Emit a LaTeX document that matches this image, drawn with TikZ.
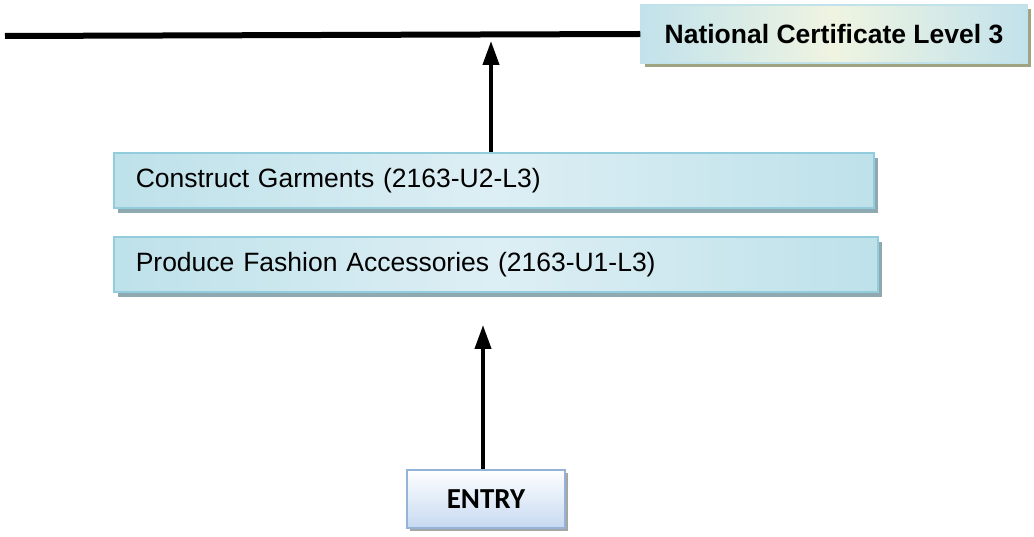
\documentclass[tikz,border=0pt]{standalone}
\usepackage{fontspec}
\setmainfont{Liberation Sans}
\newfontfamily\entryfont{Carlito}
\usetikzlibrary{arrows.meta,positioning,shadows}
\definecolor{unitedge}{HTML}{93CDDD}
\definecolor{unitlight}{HTML}{DDEFF4}
\definecolor{unitdark}{HTML}{BEE1EA}
\definecolor{unitshadow}{HTML}{8EA9B0}
\definecolor{certblue}{HTML}{C2E2EB}
\definecolor{certcream}{HTML}{EFF4E1}
\definecolor{certshadow}{HTML}{A0A382}
\definecolor{entryedge}{HTML}{95B3D7}
\definecolor{entrybottom}{HTML}{C6D9F1}
\tikzset{
    unit box/.style={
        draw=unitedge, line width=1.5pt,
        left color=unitdark, right color=unitdark, middle color=unitlight,
        drop shadow={shadow xshift=4pt, shadow yshift=-5pt, fill=unitshadow, opacity=1},
        minimum height=55pt, inner xsep=22pt, anchor=west, align=left,
        font=\fontsize{26.5}{30}\selectfont
    },
    cert box/.style={
        draw=certblue, line width=1.5pt,
        left color=certblue, right color=certblue, middle color=certcream,
        drop shadow={shadow xshift=4pt, shadow yshift=-4pt, fill=certshadow, opacity=1},
        minimum width=386pt, minimum height=58pt,
        font=\fontsize{26.5}{30}\selectfont\bfseries
    },
    entry box/.style={
        draw=entryedge, line width=2pt,
        top color=white, bottom color=entrybottom,
        drop shadow={shadow xshift=3pt, shadow yshift=-3pt, fill=black!35, opacity=1},
        minimum width=158pt, minimum height=58pt,
        font=\fontsize{29}{32}\selectfont\entryfont\bfseries
    },
    up arrow/.style={-{Triangle[width=16pt,length=24pt]}, line width=4pt}
}
\begin{document}
\begin{tikzpicture}[x=1pt,y=-1pt]
    \useasboundingbox (0,0) rectangle (1034,537);
    % boxes
    \node[cert box] (cert) at (834,34) {National Certificate Level 3};
    \node[unit box, text width=716pt] (garments) at (113,180.5) {Construct Garments (2163-U2-L3)};
    \node[unit box, text width=720pt] (accessories) at (113,264.5) {Produce Fashion Accessories (2163-U1-L3)};
    \node[entry box] (entry) at (486,499) {ENTRY};
    % level line
    \coordinate (lineend) at (5,36);
    \draw[line width=6pt] (lineend) -- (cert.west);
    % arrows
    \coordinate (tipone) at (491,41);
    \coordinate (tiptwo) at (483,325);
    \draw[up arrow] (garments.north -| tipone) -- (tipone);
    \draw[up arrow] (entry.north -| tiptwo) -- (tiptwo);
\end{tikzpicture}
\end{document}
